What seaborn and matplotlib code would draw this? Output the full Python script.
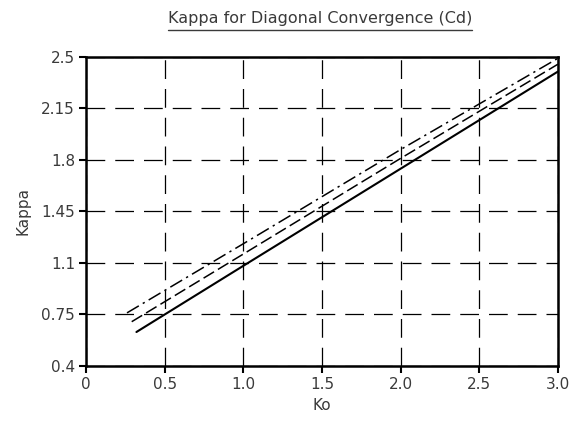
import numpy as np
import pandas as pd
import matplotlib
matplotlib.use("Agg")
import matplotlib.pyplot as plt
import seaborn as sns
from matplotlib.lines import Line2D

# values (Ko, Kappa) at the ends of each line
ko_solid = [0.32, 1.0, 2.0, 3.0]
kappa_solid = [0.63, 1.08, 1.74, 2.40]
ko_dashed = [0.29, 1.0, 2.0, 3.0]
kappa_dashed = [0.70, 1.16, 1.81, 2.45]
ko_dashdot = [0.26, 1.0, 2.0, 3.0]
kappa_dashdot = [0.76, 1.23, 1.87, 2.49]

x_ticks = [0, 0.5, 1.0, 1.5, 2.0, 2.5, 3.0]
x_labels = ["0", "0.5", "1.0", "1.5", "2.0", "2.5", "3.0"]
y_ticks = [0.4, 0.75, 1.1, 1.45, 1.8, 2.15, 2.5]
y_labels = ["0.4", "0.75", "1.1", "1.45", "1.8", "2.15", "2.5"]

sns.set_style("ticks")
plt.rcParams['font.family'] = ['DejaVu Sans']
txt = '#3a3a3a'

fig = plt.figure(figsize=(5.74, 4.21), dpi=100)
ax = fig.add_axes([0.150, 0.131, 0.822, 0.734])

sns.lineplot(x=ko_solid, y=kappa_solid, ax=ax, color='black', lw=1.5, linestyle='-')
sns.lineplot(x=ko_dashed, y=kappa_dashed, ax=ax, color='black', lw=1.1, linestyle=(0, (8, 3)))
sns.lineplot(x=ko_dashdot, y=kappa_dashdot, ax=ax, color='black', lw=1.1, linestyle=(0, (9, 3, 1.5, 3)))

ax.set_xlim(0, 3.0)
ax.set_ylim(0.4, 2.5)
ax.set_xticks(x_ticks)
ax.set_xticklabels(x_labels)
ax.set_yticks(y_ticks)
ax.set_yticklabels(y_labels)
ax.grid(True, color='black', linestyle=(0, (15, 8)), lw=0.9)
for s in ax.spines.values():
    s.set_linewidth(1.8)
    s.set_color('black')
    s.set_visible(True)
ax.tick_params(axis='both', length=5, width=1.5, colors='black', labelcolor=txt,
               labelsize=11, pad=3)
ax.set_xlabel("Ko", fontsize=11, color=txt, labelpad=4)
ax.set_ylabel("Kappa", fontsize=11, color=txt, labelpad=8)

title = fig.text(0.558, 0.955, "Kappa for Diagonal Convergence (Cd)", ha='center', va='center',
                 fontsize=11.5, color=txt)
fig.canvas.draw()
bb = title.get_window_extent().transformed(fig.transFigure.inverted())
fig.add_artist(Line2D([bb.x0, bb.x1], [bb.y0 - 0.008, bb.y0 - 0.008], transform=fig.transFigure,
                      color=txt, lw=1.0))

fig.savefig("out.png", dpi=100)
